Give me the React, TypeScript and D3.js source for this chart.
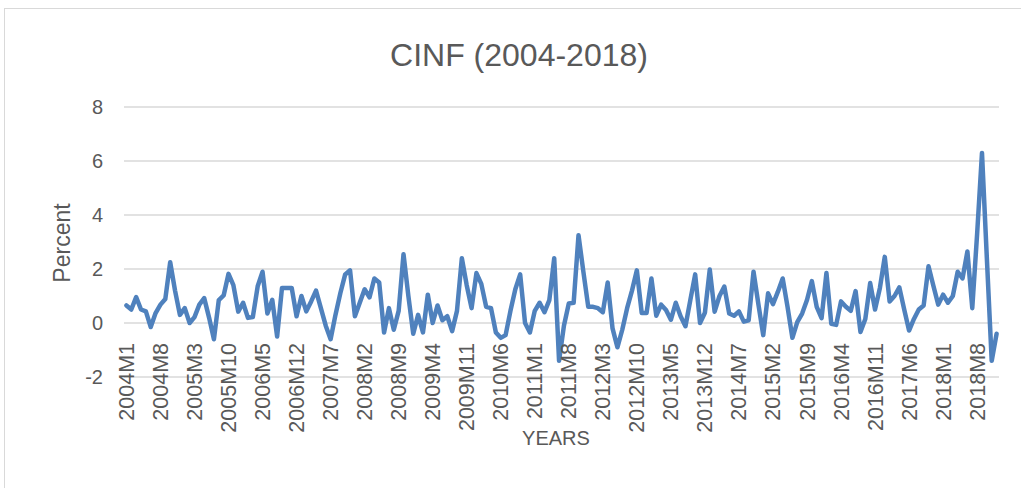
import React from "react";
import * as d3 from "d3";

const title = "CINF (2004-2018)";
const yTitle = "Percent";
const xTitle = "YEARS";
const yTicks = [-2, 0, 2, 4, 6, 8];

const years = d3.range(2004, 2019);
const months = d3.range(1, 13);
const categories: string[] = years.flatMap((y) => months.map((m) => `${y}M${m}`));

const tickLabels = [
  "2004M1", "2004M8", "2005M3", "2005M10", "2006M5", "2006M12", "2007M7", "2008M2",
  "2008M9", "2009M4", "2009M11", "2010M6", "2011M1", "2011M8", "2012M3", "2012M10",
  "2013M5", "2013M12", "2014M7", "2015M2", "2015M9", "2016M4", "2016M11", "2017M6",
  "2018M1", "2018M8",
];

const cinf2004_2006 = [
  0.65, 0.5, 0.96, 0.5, 0.43, -0.15, 0.37, 0.68, 0.89, 2.25, 1.2, 0.3,
  0.55, 0.0, 0.22, 0.68, 0.92, 0.2, -0.6, 0.85, 1.02, 1.82, 1.4, 0.42,
  0.75, 0.19, 0.22, 1.36, 1.9, 0.35, 0.86, -0.5, 1.3, 1.3, 1.3, 0.25,
];
const cinf2007_2009 = [
  1.0, 0.43, 0.8, 1.2, 0.55, -0.1, -0.6, 0.3, 1.1, 1.8, 1.95, 0.25,
  0.75, 1.25, 0.95, 1.65, 1.5, -0.35, 0.55, -0.25, 0.45, 2.55, 1.0, -0.4,
  0.3, -0.35, 1.05, 0.0, 0.65, 0.1, 0.25, -0.3, 0.45, 2.4, 1.4, 0.55,
];
const cinf2010_2012 = [
  1.85, 1.45, 0.6, 0.55, -0.35, -0.55, -0.45, 0.45, 1.25, 1.8, 0.0, -0.35,
  0.45, 0.75, 0.4, 0.85, 2.4, -1.4, -0.1, 0.72, 0.75, 3.25, 1.9, 0.6,
  0.6, 0.55, 0.4, 1.5, -0.2, -0.9, -0.25, 0.55, 1.2, 1.95, 0.37, 0.37,
];
const cinf2013_2015 = [
  1.65, 0.27, 0.68, 0.48, 0.12, 0.75, 0.25, -0.12, 0.85, 1.8, 0.0, 0.38,
  1.98, 0.42, 1.0, 1.35, 0.35, 0.27, 0.43, 0.05, 0.1, 1.9, 0.7, -0.45,
  1.1, 0.7, 1.15, 1.65, 0.6, -0.55, 0.03, 0.35, 0.85, 1.55, 0.6, 0.18,
];
const cinf2016_2018 = [
  1.85, -0.03, -0.07, 0.8, 0.6, 0.45, 1.18, -0.33, 0.15, 1.48, 0.5, 1.3,
  2.45, 0.8, 1.0, 1.32, 0.5, -0.28, 0.15, 0.5, 0.65, 2.1, 1.38, 0.68,
  1.05, 0.75, 1.0, 1.9, 1.65, 2.65, 0.55, 3.3, 6.3, 2.4, -1.4, -0.4,
];
const values = [...cinf2004_2006, ...cinf2007_2009, ...cinf2010_2012, ...cinf2013_2015, ...cinf2016_2018];

const W = 1021;
const H = 488;
const FONT = "'Liberation Sans', Arial, sans-serif";
const TEXT = "#595959";
const GRID = "#D9D9D9";
const LINE = "#4F81BD";

export default function App() {
  const x = d3.scaleBand<string>().domain(categories).range([124, 999]);
  const y = d3.scaleLinear().domain([-2, 8]).range([377, 107]);
  const cx = (c: string) => (x(c) ?? 0) + x.bandwidth() / 2;
  const line = d3
    .line<number>()
    .x((_, i) => cx(categories[i]))
    .y((v) => y(v))
    .curve(d3.curveLinear);

  return (
    <svg width={W} height={H} style={{ position: "absolute", left: 0, top: 0, background: "#fff" }}>
      <rect x={4.5} y={8.5} width={W + 20} height={H + 20} fill="#fff" stroke={GRID} strokeWidth={1} />
      <text x={519} y={66} textAnchor="middle" fontFamily={FONT} fontSize={32} fill={TEXT}>
        {title}
      </text>
      {yTicks.map((t) => (
        <g key={t}>
          <line x1={124} x2={999} y1={y(t)} y2={y(t)} stroke={GRID} strokeWidth={1.3} />
          <text x={103} y={y(t)} dy="0.35em" textAnchor="end" fontFamily={FONT} fontSize={20} fill={TEXT}>
            {t}
          </text>
        </g>
      ))}
      <path d={line(values) ?? ""} fill="none" stroke={LINE} strokeWidth={4.5} strokeLinejoin="round" strokeLinecap="round" />
      {tickLabels.map((lab) => (
        <text
          key={lab}
          transform={`translate(${cx(lab)},343) rotate(-90)`}
          dy="0.35em"
          textAnchor="end"
          fontFamily={FONT}
          fontSize={21.5}
          fill={TEXT}
        >
          {lab}
        </text>
      ))}
      <text
        transform={`translate(62,243) rotate(-90)`}
        dy="0.35em"
        textAnchor="middle"
        fontFamily={FONT}
        fontSize={23}
        fill={TEXT}
      >
        {yTitle}
      </text>
      <text x={556} y={438} dy="0.35em" textAnchor="middle" fontFamily={FONT} fontSize={20} fill={TEXT}>
        {xTitle}
      </text>
    </svg>
  );
}
